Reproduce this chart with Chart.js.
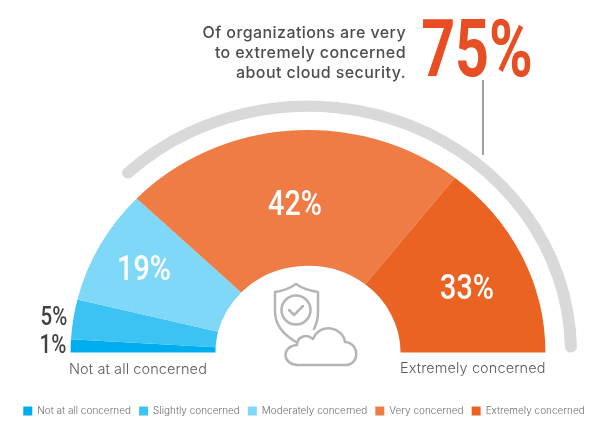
<!DOCTYPE html>
<html>
<head>
<meta charset="utf-8">
<script src="https://cdn.jsdelivr.net/npm/chart.js@4.4.4/dist/chart.umd.min.js"></script>
<style>
  html, body { margin: 0; padding: 0; background: #fff; }
  #stage { position: relative; width: 600px; height: 426px; overflow: hidden; font-family: Inter, sans-serif; }
  #chart { position: absolute; left: 4px; top: 0; }
  .t { position: absolute; white-space: nowrap; line-height: 1; }
  .num { font-family: Roboto, sans-serif; font-weight: 500; transform: translate(-50%, -50%) scaleX(0.82); }
  .white { color: #fff; font-size: 35px; }
  .dark { color: #414042; font-size: 25px; }
  #head { right: 194px; top: 22px; width: 260px; text-align: right; color: #4d4d4f; font-size: 16px; font-weight: 500; line-height: 20px; letter-spacing: 0.42px; white-space: pre-line; }
  #big { left: 476.5px; top: 49px; color: #e84e24; font-size: 80px; font-weight: 700; font-family: Roboto, sans-serif; transform: translate(-50%, -50%) scaleX(0.74); }
  #leader { position: absolute; left: 482px; top: 80px; width: 2px; height: 75px; background: #a0a0a0; }
  .end { color: #58595b; font-size: 14.5px; font-weight: 300; letter-spacing: 0.1px; }
  #icon { position: absolute; left: 0; top: 0; }
</style>
</head>
<body>
<div id="stage">
  <canvas id="chart" width="600" height="426"></canvas>
  <div class="t" id="head"></div>
  <div class="t" id="big"></div>
  <div id="leader"></div>
  <div class="t num white" id="v3" style="left:295px;top:203px"></div>
  <div class="t num white" id="v2" style="left:144px;top:268px"></div>
  <div class="t num white" id="v4" style="left:467px;top:287px"></div>
  <div class="t num dark" id="v1" style="left:53.5px;top:316px"></div>
  <div class="t num dark" id="v0" style="left:52.5px;top:344px"></div>
  <div class="t end" id="endLeft" style="left:69px;top:362px"></div>
  <div class="t end" id="endRight" style="left:400px;top:361px"></div>
  <svg id="icon" width="600" height="426" fill="none" stroke="#b5b5b5" stroke-width="2.5" stroke-linejoin="round" stroke-linecap="round">
    <path d="M296 284 C289 289 282 291 275 292 L275 312 C275 326 286 336 296 342 M296 284 C303 289 311 291 318 292 L318 312 C318 318 317 323 314 329"/>
    <circle cx="296" cy="310" r="14.5"/>
    <path d="M289 310 L294 315 L303 306"/>
    <path d="M298 365 L345 365 C360 365 360 343 345 342 C343 327 320 322 313 339 C306 333 297 337 297 345 C281 346 282 365 298 365 Z"/>
  </svg>
</div>
<script>
const categories = ["Not at all concerned", "Slightly concerned", "Moderately concerned", "Very concerned", "Extremely concerned"]
const valueLabels = ["1%", "5%", "19%", "42%", "33%"]
// the wedges in the picture are not proportional to their printed labels, so these are the measured sweeps in degrees
const sweepDegrees = [3.4, 10.4, 30, 84.4, 51.8]
const sliceColors = ["#00aeef", "#3bc4f3", "#7fd8f8", "#ef7c45", "#eb6323"]
const trackDegrees = [45.5, 134.5]
const headline = "Of organizations are very\nto extremely concerned\nabout cloud security."
const headlineValue = "75%"
const endLabels = ["Not at all concerned", "Extremely concerned"]

valueLabels.forEach((label, i) => { document.getElementById("v" + i).textContent = label })
document.getElementById("head").textContent = headline
document.getElementById("big").textContent = headlineValue
document.getElementById("endLeft").textContent = endLabels[0]
document.getElementById("endRight").textContent = endLabels[1]

// the gauge in the reference is slightly flattened and sits 4px right of the legend centre
const flatten = {
  id: "flatten",
  beforeDatasetsDraw(chart) {
    const arc = chart.getDatasetMeta(0).data[0]
    const ctx = chart.ctx
    ctx.save()
    ctx.translate(arc.x + 4, arc.y)
    ctx.scale(1, 0.937)
    ctx.translate(-arc.x, -arc.y)
  },
  afterDatasetsDraw(chart) {
    chart.ctx.restore()
  }
}

new Chart(document.getElementById("chart"), {
  type: "doughnut",
  plugins: [flatten],
  data: {
    labels: categories,
    datasets: [
      {
        data: trackDegrees,
        backgroundColor: ["rgba(0,0,0,0)", "#d9d9d9"],
        borderWidth: 0,
        borderRadius: 6,
        weight: 12
      },
      {
        data: [180],
        backgroundColor: "rgba(0,0,0,0)",
        borderWidth: 0,
        weight: 19.5
      },
      {
        data: sweepDegrees,
        backgroundColor: sliceColors,
        borderWidth: 0,
        weight: 144.5
      }
    ]
  },
  options: {
    responsive: false,
    animation: false,
    rotation: -90,
    circumference: 180,
    radius: 269,
    cutout: "34.4%",
    layout: { padding: { top: 38, bottom: 0 } },
    plugins: {
      tooltip: { enabled: false },
      legend: {
        position: "bottom",
        labels: {
          boxWidth: 9,
          boxHeight: 9,
          padding: 8,
          color: "#6d6e71",
          font: { family: "Inter", size: 10, weight: "300" },
          generateLabels: () => categories.map((text, i) => ({
            text,
            fillStyle: sliceColors[i],
            strokeStyle: sliceColors[i],
            lineWidth: 0,
            fontColor: "#6d6e71",
            hidden: false,
            index: i
          }))
        }
      }
    }
  }
})
</script>
</body>
</html>
